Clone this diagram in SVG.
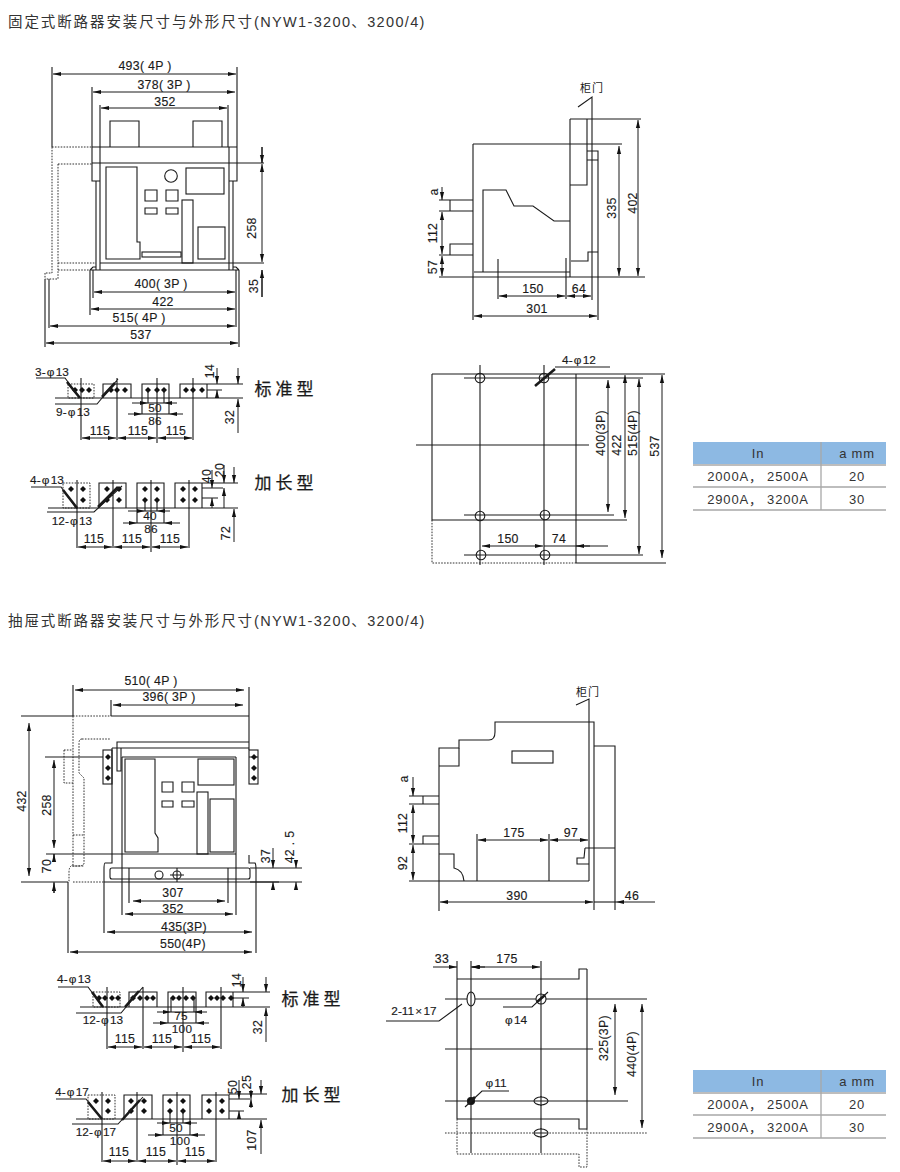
<svg xmlns="http://www.w3.org/2000/svg" xmlns:xlink="http://www.w3.org/1999/xlink" width="900" height="1172" viewBox="0 0 900 1172">
<style>
text{font-family:"Liberation Sans","Noto Sans CJK SC",sans-serif;fill:#1a1a1a;text-anchor:middle;dominant-baseline:central;font-size:12.3px;letter-spacing:.3px;stroke:#1a1a1a;stroke-width:.15px}
.t{font-size:14.5px;fill:#333;text-anchor:start;letter-spacing:1.9px;stroke:none}
.l{letter-spacing:1.35px}
.c{font-size:17px;letter-spacing:4px;font-family:"Noto Sans CJK SC",sans-serif;stroke-width:.25px}
.m{font-size:11px;letter-spacing:1px;font-family:"Noto Sans CJK SC",sans-serif;stroke:none}
.v{font-size:13px;fill:#333;letter-spacing:.8px;stroke:none}
.q{font-size:11.8px;letter-spacing:0;word-spacing:-2px}
.n{font-size:11.8px}
path,line,rect,circle,ellipse{fill:none;stroke:#1a1a1a;stroke-width:1.1}
.dot{stroke-dasharray:1.6 1.3;stroke-width:.9}
.b{marker-start:url(#ar);marker-end:url(#ar);stroke-width:1}
.e{marker-end:url(#ar);stroke-width:1}
.th{stroke-width:2.6}
.h{fill:#8db9e3;stroke:none}
.g{stroke:#a8a8a8;stroke-width:1.3}
.dm{fill:#111;stroke:none}
.cl{fill:#fff}
</style>
<defs>
<marker id="ar" markerUnits="userSpaceOnUse" markerWidth="9" markerHeight="6" refX="8" refY="3" orient="auto-start-reverse"><path d="M0 .9L8 3L0 5.1Z" style="fill:#111;stroke:none"/></marker>
<polygon id="d" class="dm" points="0,-3 3,0 0,3 -3,0"/>
</defs>

<text id="title-1" class="t" x="8" y="22">固定式断路器安装尺寸与外形尺寸<tspan class="l">(NYW1-3200、3200/4)</tspan></text>

<g id="front-view-1">
<path d="M92 147H237M92 163H264M92 147V181H100V147M229 147V181H237V147M96 181V270M100 181V270M229 181V270M233 181V270M100 263H264M90 270H239M90 270L93 267H96M239 270L236 267H233"/>
<path d="M110 147V121H139V147M193 147V121H222V147"/>
<path d="M106 167H137V242H140V259H106Z"/>
<circle cx="171" cy="176" r="6.3"/>
<path d="M145 190H157V201H145ZM166 190H178V201H166ZM145 208H157V214H145ZM166 208H178V214H166Z"/>
<rect x="186" y="168" width="38" height="26"/>
<rect x="182" y="200" width="11" height="63"/>
<rect x="198" y="227" width="27" height="32"/>
<rect x="142" y="252" width="39" height="5"/>
<path class="dot" d="M52 147H92M52 147V273H45M58 164H92M58 164V279H45M58 263H96M58 270H90M45 273V279"/>
<path d="M52 67V147M237 67V147M92 87V147M100 105V147M228 105V147M45 279V347M49 279V328M90 270V315M93 270V298M236 270V327M239 270V347M262 270V297M262 147V163"/>
<line class="b" x1="53" y1="74" x2="236" y2="74"/>
<line class="b" x1="93" y1="92" x2="235" y2="92"/>
<line class="b" x1="101" y1="108" x2="227" y2="108"/>
<line class="b" x1="94" y1="292" x2="235" y2="292"/>
<line class="b" x1="91" y1="309" x2="235" y2="309"/>
<line class="b" x1="50" y1="326" x2="235" y2="326"/>
<line class="b" x1="46" y1="343" x2="238" y2="343"/>
<line class="b" x1="262" y1="164" x2="262" y2="262"/>
<line class="e" x1="262" y1="147" x2="262" y2="163"/>
<line class="e" x1="262" y1="297" x2="262" y2="270"/>
<text x="145" y="66">493( 4P )</text><text x="164" y="85">378( 3P )</text><text x="165" y="102">352</text>
<text x="161" y="284">400( 3P )</text><text x="163" y="302">422</text><text x="139" y="318">515( 4P )</text><text x="141" y="335">537</text>
<text x="252" y="228" transform="rotate(-90 252 228)">258</text><text x="254" y="286" transform="rotate(-90 254 286)">35</text>
</g>

<g id="busbar-std-1">
<rect class="dot" x="68" y="384" width="26" height="14"/>
<path d="M103 398V384H131V398M142 398V384H169V398M180 398V384H207V398M207 384H243M207 390H222M55 398H243"/>
<g><use xlink:href="#d" x="75" y="390"/><use xlink:href="#d" x="82" y="390"/><use xlink:href="#d" x="89" y="390"/><use xlink:href="#d" x="111" y="390"/><use xlink:href="#d" x="117" y="390"/><use xlink:href="#d" x="125" y="390"/><use xlink:href="#d" x="148" y="390"/><use xlink:href="#d" x="157" y="390"/><use xlink:href="#d" x="164" y="390"/><use xlink:href="#d" x="186" y="390"/><use xlink:href="#d" x="193" y="390"/><use xlink:href="#d" x="202" y="390"/></g>
<path d="M36 378H65L80 398M55 404H97L118 379M81 378V440M117 378V440M157 378V443M193 378V440M148 390V403M164 390V403M142 398V414M169 398V414"/>
<path class="th" d="M67 382L80 398M102 397L115 383"/>
<line class="b" x1="82" y1="438" x2="116" y2="438"/><line class="b" x1="118" y1="438" x2="156" y2="438"/><line class="b" x1="158" y1="438" x2="192" y2="438"/>
<line class="e" x1="132" y1="403" x2="148" y2="403"/><line class="e" x1="177" y1="403" x2="164" y2="403"/><line x1="148" y1="403" x2="164" y2="403"/>
<line class="e" x1="128" y1="414" x2="142" y2="414"/><line class="e" x1="183" y1="414" x2="169" y2="414"/><line x1="142" y1="414" x2="169" y2="414"/>
<line class="e" x1="217" y1="368" x2="217" y2="384"/><line class="e" x1="217" y1="398" x2="217" y2="390"/>
<line class="e" x1="238" y1="368" x2="238" y2="384"/><line class="b" x1="238" y1="399" x2="238" y2="433" style="marker-end:none"/>
<text class="q" x="52" y="372">3- φ 13</text><text class="q" x="73" y="412">9- φ 13</text>
<text x="100" y="431">115</text><text x="138" y="431">115</text><text x="176" y="431">115</text><text class="n" x="155" y="407.5">50</text><text class="n" x="155" y="420.5">86</text>
<text x="210" y="371" transform="rotate(-90 210 371)">14</text><text x="230" y="417" transform="rotate(-90 230 417)">32</text>
<text class="c" x="286" y="387">标准型</text>
</g>

<g id="busbar-long-1">
<rect class="dot" x="63" y="483" width="27" height="25"/>
<path d="M99 508V483H126V508M137 508V483H164V508M175 508V483H202V508M202 483H238M202 488H223M202 498H218M48 508H238"/>
<g><use xlink:href="#d" x="71" y="489"/><use xlink:href="#d" x="83" y="489"/><use xlink:href="#d" x="83" y="500"/><use xlink:href="#d" x="107" y="489"/><use xlink:href="#d" x="119" y="489"/><use xlink:href="#d" x="107" y="500"/><use xlink:href="#d" x="119" y="500"/><use xlink:href="#d" x="145" y="489"/><use xlink:href="#d" x="157" y="489"/><use xlink:href="#d" x="145" y="500"/><use xlink:href="#d" x="157" y="500"/><use xlink:href="#d" x="183" y="489"/><use xlink:href="#d" x="195" y="489"/><use xlink:href="#d" x="183" y="500"/><use xlink:href="#d" x="195" y="500"/></g>
<path d="M31 487H61L77 509M47 512H94L122 486M77 480V548M113 480V548M151 480V552M189 480V548M145 500V511M157 500V511M137 508V523M164 508V523"/>
<path class="th" d="M63 490L77 508M98 507L118 487"/>
<line class="b" x1="78" y1="547" x2="112" y2="547"/><line class="b" x1="114" y1="547" x2="150" y2="547"/><line class="b" x1="152" y1="547" x2="188" y2="547"/>
<line class="e" x1="128" y1="511" x2="145" y2="511"/><line class="e" x1="170" y1="511" x2="157" y2="511"/><line x1="145" y1="511" x2="157" y2="511"/>
<line class="e" x1="123" y1="523" x2="137" y2="523"/><line class="e" x1="180" y1="523" x2="164" y2="523"/><line x1="137" y1="523" x2="164" y2="523"/>
<line class="e" x1="212" y1="470" x2="212" y2="488"/><line class="e" x1="212" y1="508" x2="212" y2="498"/>
<line class="e" x1="224" y1="465" x2="224" y2="483"/><line class="e" x1="224" y1="508" x2="224" y2="488"/>
<line class="e" x1="234" y1="467" x2="234" y2="483"/><line class="b" x1="234" y1="509" x2="234" y2="542" style="marker-end:none"/>
<text class="q" x="47" y="480">4- φ 13</text><text class="q" x="72" y="521">12- φ 13</text>
<text x="94" y="539">115</text><text x="132" y="539">115</text><text x="170" y="539">115</text><text class="n" x="150" y="516">40</text><text class="n" x="151" y="529">86</text>
<text x="207" y="476" transform="rotate(-90 207 476)">40</text><text x="220" y="470" transform="rotate(-90 220 470)">20</text><text x="226" y="533" transform="rotate(-90 226 533)">72</text>
<text class="c" x="286" y="481">加长型</text>
</g>

<g id="side-view-1">
<path d="M578 107L592 97V300M570 119H641M570 119V277M587 119V185H570M473 144H622M473 144V277M439 277H645M474 272H570"/>
<path d="M483 272V190H506L514 206H533L554 221H570"/>
<path d="M587 151H598V320M587 160H598M571 261H588V252H598"/>
<path d="M439 200H473M439 211H473M450 200V211M450 255V244H473M439 255H473M498 259V299M566 258V299M473 277V320"/>
<line class="e" x1="442" y1="187" x2="442" y2="200"/>
<line class="b" x1="442" y1="212" x2="442" y2="254"/>
<line class="b" x1="442" y1="256" x2="442" y2="276"/>
<line class="b" x1="499" y1="296" x2="565" y2="296"/>
<line class="b" x1="567" y1="296" x2="591" y2="296"/>
<line class="b" x1="474" y1="316" x2="597" y2="316"/>
<line class="b" x1="619" y1="146" x2="619" y2="276"/>
<line class="b" x1="638" y1="120" x2="638" y2="276"/>
<text class="m" x="592" y="87">柜门</text>
<text x="434" y="192" transform="rotate(-90 434 192)">a</text><text x="433" y="233" transform="rotate(-90 433 233)">112</text><text x="433" y="267" transform="rotate(-90 433 267)">57</text>
<text x="533" y="289">150</text><text x="579" y="289">64</text><text x="537" y="309">301</text>
<text x="612" y="208" transform="rotate(-90 612 208)">335</text><text x="633" y="203" transform="rotate(-90 633 203)">402</text>
</g>

<g id="mount-plan-1">
<path d="M432 374H665M432 374V520H627M576 374V563M576 563H666M480 365V565M544 365V565M464 378H643M464 515H614M464 555H643M416 445H589"/>
<path class="dot" d="M432 520V563H576"/>
<circle cx="480" cy="378" r="4.8"/><circle cx="544" cy="378" r="4.8"/><circle cx="480" cy="516" r="4.8"/><circle cx="545" cy="515" r="4.8"/><circle cx="481" cy="555" r="4.8"/><circle cx="545" cy="555" r="4.8"/>
<path class="th" d="M535 386L555 369"/><path d="M555 367H610"/>
<line class="b" x1="608" y1="380" x2="608" y2="512"/>
<line class="b" x1="625" y1="375" x2="625" y2="518"/>
<line class="b" x1="639" y1="379" x2="639" y2="554"/>
<line class="b" x1="662" y1="375" x2="662" y2="558"/>
<line class="b" x1="482" y1="546" x2="543" y2="546"/>
<path d="M544 546H608"/><line class="e" x1="590" y1="546" x2="576" y2="546"/>
<text class="q" x="579" y="360">4- φ 12</text><text x="508" y="539">150</text><text x="559" y="539">74</text>
<text x="601" y="433" transform="rotate(-90 601 433)">400(3P)</text><text x="617" y="445" transform="rotate(-90 617 445)">422</text><text x="633" y="433" transform="rotate(-90 633 433)">515(4P)</text><text x="655" y="446" transform="rotate(-90 655 446)">537</text>
</g>

<g id="table-1">
<rect class="h" x="693" y="442" width="193" height="22"/>
<path class="g" d="M693 465H886M693 487H886M693 510H886M821 442V510"/>
<text class="v" x="758" y="453">In</text><text class="v" x="857" y="453">a mm</text>
<text class="v" x="758" y="476">2000A， 2500A</text><text class="v" x="857" y="476">20</text>
<text class="v" x="758" y="499">2900A， 3200A</text><text class="v" x="857" y="499">30</text>
</g>

<text id="title-2" class="t" x="8" y="621">抽屉式断路器安装尺寸与外形尺寸<tspan class="l">(NYW1-3200、3200/4)</tspan></text>

<g id="front-view-2">
<path d="M117 748V742H249M112 748H249V750M112 748V863H105Q104 863 104 870V882M117 748V771H121V748M21 716H73M111 716H249M111 700V716M249 687V750M73 685V716M21 882H68M104 882H279M45 757H103M249 757H258"/>
<rect x="103" y="750" width="9" height="34"/><rect x="249" y="750" width="9" height="34"/>
<path d="M122 757V915M236 757V915M122 757H236M46 854H236"/>
<path d="M125 759H155V833L158 838V852H125Z"/>
<rect x="198" y="759" width="36" height="26"/>
<path d="M162 782H173V792H162ZM182 782H194V792H182ZM162 801H173V807H162ZM182 801H194V807H182Z"/>
<rect x="197" y="792" width="11" height="62"/><rect x="210" y="799" width="24" height="53"/>
<path d="M249 855V863H255Q256 864 256 870V953"/>
<rect x="110" y="868" width="140" height="11" rx="2"/>
<path d="M250 868H302M250 882H302"/>
<circle cx="159" cy="875" r="4"/><circle cx="177" cy="875" r="4"/><path d="M170 875H184M177 868V882"/>
<path d="M129 868V903M228 868V903M104 882V933M68 882V953"/>
<g><use xlink:href="#d" x="108" y="757"/><use xlink:href="#d" x="108" y="768"/><use xlink:href="#d" x="108" y="778"/><use xlink:href="#d" x="254" y="757"/><use xlink:href="#d" x="254" y="768"/><use xlink:href="#d" x="254" y="778"/></g>
<path class="dot" d="M73 716V865Q69 866 69 872V882M73 716H111M82 739H111M82 739Q79 739 79 743V773L84 778V863Q84 866 78 866H71M64 750H73M64 750V783H73M73 835H83M73 882H104M73 866H84"/>
<line class="b" x1="75" y1="690" x2="244" y2="690"/>
<line class="b" x1="113" y1="705" x2="243" y2="705"/>
<line class="b" x1="29" y1="723" x2="29" y2="876"/>
<line class="b" x1="54" y1="760" x2="54" y2="848"/>
<path d="M54 854V860M54 882V893"/>
<line class="e" x1="54" y1="862" x2="54" y2="854"/><line class="e" x1="54" y1="893" x2="54" y2="883"/>
<line class="b" x1="133" y1="901" x2="225" y2="901"/>
<line class="b" x1="125" y1="914" x2="233" y2="914"/>
<line class="b" x1="107" y1="932" x2="252" y2="932"/>
<line class="b" x1="70" y1="952" x2="252" y2="952"/>
<line class="e" x1="273" y1="848" x2="273" y2="868"/><line class="e" x1="273" y1="890" x2="273" y2="882"/>
<line class="e" x1="296" y1="860" x2="296" y2="868"/><line class="e" x1="296" y1="890" x2="296" y2="882"/>
<text x="151" y="681">510( 4P )</text><text x="169" y="697">396( 3P )</text>
<text x="173" y="893">307</text><text x="173" y="909">352</text><text x="184" y="927">435(3P)</text><text x="183" y="944">550(4P)</text>
<text x="22" y="801" transform="rotate(-90 22 801)">432</text><text x="47" y="805" transform="rotate(-90 47 805)">258</text><text x="47" y="866" transform="rotate(-90 47 866)">70</text>
<text x="266" y="856" transform="rotate(-90 266 856)">37</text><text x="290" y="847" transform="rotate(-90 290 847)">42 . 5</text>
</g>

<g id="busbar-std-2">
<rect class="dot" x="93" y="992" width="27" height="15"/>
<path d="M129 1007V992H157V1007M168 1007V992H196V1007M206 1007V992H233V1007M233 992H270M233 998H249M80 1007H270"/>
<g><use xlink:href="#d" x="99" y="998"/><use xlink:href="#d" x="105" y="998"/><use xlink:href="#d" x="112" y="998"/><use xlink:href="#d" x="118" y="998"/><use xlink:href="#d" x="133" y="998"/><use xlink:href="#d" x="140" y="998"/><use xlink:href="#d" x="147" y="998"/><use xlink:href="#d" x="153" y="998"/><use xlink:href="#d" x="173" y="998"/><use xlink:href="#d" x="179" y="998"/><use xlink:href="#d" x="186" y="998"/><use xlink:href="#d" x="193" y="998"/><use xlink:href="#d" x="211" y="998"/><use xlink:href="#d" x="217" y="998"/><use xlink:href="#d" x="223" y="998"/><use xlink:href="#d" x="231" y="998"/></g>
<path d="M58 987H88L103 1007M76 1013H121L143 987M107 987V1049M143 987V1049M183 987V1052M221 987V1049M171 998V1012M194 998V1012M168 1007V1023M196 1007V1023"/>
<path class="th" d="M92 992L103 1007M125 1007L139 991"/>
<line class="b" x1="108" y1="1047" x2="142" y2="1047"/><line class="b" x1="144" y1="1047" x2="182" y2="1047"/><line class="b" x1="184" y1="1047" x2="220" y2="1047"/>
<line class="e" x1="157" y1="1012" x2="171" y2="1012"/><line class="e" x1="207" y1="1012" x2="194" y2="1012"/><line x1="171" y1="1012" x2="194" y2="1012"/>
<line class="e" x1="153" y1="1023" x2="168" y2="1023"/><line class="e" x1="209" y1="1023" x2="196" y2="1023"/><line x1="168" y1="1023" x2="196" y2="1023"/>
<line class="e" x1="243" y1="977" x2="243" y2="992"/><line class="e" x1="243" y1="1007" x2="243" y2="998"/>
<line class="e" x1="266" y1="977" x2="266" y2="992"/><line class="b" x1="266" y1="1008" x2="266" y2="1042" style="marker-end:none"/>
<text class="q" x="74" y="979">4- φ 13</text><text class="q" x="103" y="1020">12- φ 13</text>
<text x="125" y="1039">115</text><text x="162" y="1039">115</text><text x="201" y="1039">115</text><text class="n" x="181" y="1016">75</text><text class="n" x="182" y="1029">100</text>
<text x="237" y="980" transform="rotate(-90 237 980)">14</text><text x="258" y="1027" transform="rotate(-90 258 1027)">32</text>
<text class="c" x="313" y="997">标准型</text>
</g>

<g id="busbar-long-2">
<rect class="dot" x="88" y="1095" width="27" height="24"/>
<path d="M124 1119V1095H152V1119M163 1119V1095H190V1119M202 1119V1095H229V1119M229 1094H267M229 1099H250M229 1111H244M76 1119H267"/>
<g><use xlink:href="#d" x="96" y="1101"/><use xlink:href="#d" x="108" y="1101"/><use xlink:href="#d" x="108" y="1111"/><use xlink:href="#d" x="131" y="1101"/><use xlink:href="#d" x="144" y="1101"/><use xlink:href="#d" x="131" y="1111"/><use xlink:href="#d" x="144" y="1111"/><use xlink:href="#d" x="170" y="1101"/><use xlink:href="#d" x="183" y="1101"/><use xlink:href="#d" x="170" y="1111"/><use xlink:href="#d" x="183" y="1111"/><use xlink:href="#d" x="209" y="1101"/><use xlink:href="#d" x="222" y="1101"/><use xlink:href="#d" x="209" y="1111"/><use xlink:href="#d" x="222" y="1111"/></g>
<path d="M56 1099H86L102 1119M72 1124H118L143 1097M102 1092V1162M137 1092V1162M177 1092V1165M216 1092V1162M170 1111V1123M183 1111V1123M163 1119V1135M190 1119V1135"/>
<path class="th" d="M88 1102L102 1119M122 1120L140 1100"/>
<line class="b" x1="103" y1="1161" x2="136" y2="1161"/><line class="b" x1="138" y1="1161" x2="176" y2="1161"/><line class="b" x1="178" y1="1161" x2="215" y2="1161"/>
<line class="e" x1="157" y1="1123" x2="170" y2="1123"/><line class="e" x1="197" y1="1123" x2="183" y2="1123"/><line x1="170" y1="1123" x2="183" y2="1123"/>
<line class="e" x1="148" y1="1135" x2="163" y2="1135"/><line class="e" x1="205" y1="1135" x2="190" y2="1135"/><line x1="163" y1="1135" x2="190" y2="1135"/>
<line class="e" x1="239" y1="1080" x2="239" y2="1099"/><line class="e" x1="239" y1="1119" x2="239" y2="1111"/>
<line class="e" x1="251" y1="1090" x2="251" y2="1099"/><line class="e" x1="251" y1="1108" x2="251" y2="1099"/>
<line class="e" x1="261" y1="1080" x2="261" y2="1094"/><line class="b" x1="261" y1="1120" x2="261" y2="1154" style="marker-end:none"/>
<text class="q" x="72" y="1092">4- φ 17</text><text class="q" x="96" y="1132">12- φ 17</text>
<text x="119" y="1152">115</text><text x="156" y="1152">115</text><text x="195" y="1152">115</text><text class="n" x="176" y="1128">50</text><text class="n" x="180" y="1141">100</text>
<text x="233" y="1087" transform="rotate(-90 233 1087)">50</text><text x="247" y="1082" transform="rotate(-90 247 1082)">25</text><text x="252" y="1140" transform="rotate(-90 252 1140)">107</text>
<text class="c" x="313" y="1093">加长型</text>
</g>

<g id="side-view-2">
<path d="M576 705L589 699V881M439 911V748H459V740H489Q495 740 495 732V722H594V910"/>
<path d="M439 766H459V748M409 881H589"/>
<rect x="512" y="751" width="41" height="12"/>
<path d="M594 746H615V910M585 848H615M585 848L584 858H577V864H589"/>
<path d="M409 796H439M409 804H439M423 796V804M423 844V836H439M409 844H439"/>
<path d="M439 854H454V868Q463 870 464 881M477 834V881M549 834V881"/>
<line class="b" x1="478" y1="840" x2="548" y2="840"/>
<line class="b" x1="550" y1="840" x2="588" y2="840"/>
<line class="b" x1="440" y1="902" x2="593" y2="902"/>
<path d="M594 902H616"/><line class="e" x1="655" y1="902" x2="616" y2="902"/>
<line class="e" x1="413" y1="777" x2="413" y2="796"/>
<line class="b" x1="413" y1="805" x2="413" y2="843"/>
<line class="b" x1="413" y1="845" x2="413" y2="880"/>
<text class="m" x="588" y="691">柜门</text>
<text x="514" y="833">175</text><text x="571" y="833">97</text><text x="517" y="896">390</text><text x="632" y="896">46</text>
<text x="404" y="779" transform="rotate(-90 404 779)">a</text><text x="403" y="823" transform="rotate(-90 403 823)">112</text><text x="403" y="863" transform="rotate(-90 403 863)">92</text>
</g>

<g id="mount-plan-2">
<path d="M457 961V1119M471 961V1153M541 961V1153M587 969V1129M457 979H579V969H587M457 1119H579V1129H587M445 999H647M445 1049H593M445 1101H628"/>
<path class="dot" d="M457 1119V1154H579V1167H587V1129M445 1133H647"/>
<ellipse class="cl" cx="471" cy="999" rx="4" ry="7"/>
<circle class="cl" cx="541" cy="999" r="5"/>
<circle cx="471" cy="1101" r="3.5" style="fill:#111"/>
<ellipse class="cl" cx="541" cy="1101" rx="7" ry="4"/>
<ellipse class="cl" cx="541" cy="1133" rx="7" ry="4"/>
<path d="M386 1021H439L462 1004M503 1007H532L548 992M465 1107L482 1091H509M471 992V1006M534 1101H548M534 1133H548M541 994V1004M541 1096V1106M541 1128V1138"/>
<path class="th" d="M537 1002L545 995M468 1104L475 1097"/>
<line class="e" x1="433" y1="967" x2="457" y2="967"/>
<line class="e" x1="485" y1="967" x2="471" y2="967"/>
<line class="b" x1="472" y1="967" x2="540" y2="967"/>
<line class="b" x1="615" y1="1004" x2="615" y2="1095"/>
<line class="b" x1="642" y1="1004" x2="642" y2="1128"/>
<text x="442" y="959">33</text><text x="507" y="959">175</text>
<text class="q" x="414" y="1011">2-11 × 17</text><text class="q" x="516" y="1020">φ 14</text><text class="q" x="496" y="1083">φ 11</text>
<text x="604" y="1038" transform="rotate(-90 604 1038)">325(3P)</text><text x="632" y="1054" transform="rotate(-90 632 1054)">440(4P)</text>
</g>

<g id="table-2">
<rect class="h" x="693" y="1070" width="193" height="22"/>
<path class="g" d="M693 1093H886M693 1115H886M693 1138H886M821 1070V1138"/>
<text class="v" x="758" y="1081">In</text><text class="v" x="857" y="1081">a mm</text>
<text class="v" x="758" y="1104">2000A， 2500A</text><text class="v" x="857" y="1104">20</text>
<text class="v" x="758" y="1127">2900A， 3200A</text><text class="v" x="857" y="1127">30</text>
</g>
</svg>
